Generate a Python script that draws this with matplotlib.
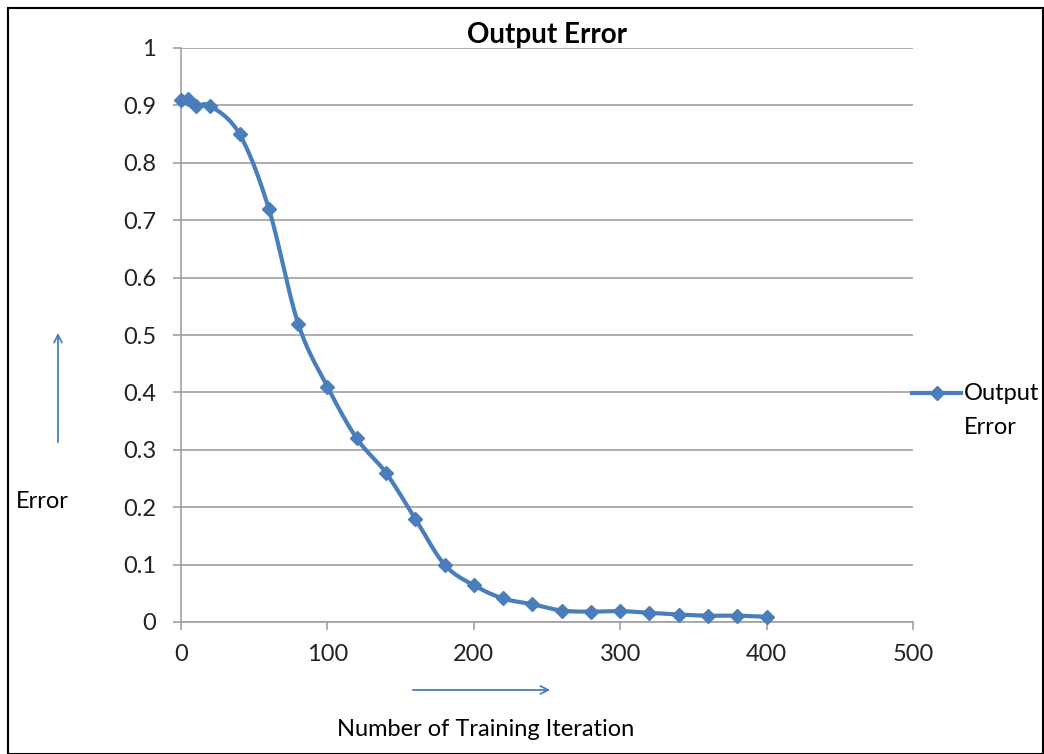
import matplotlib.pyplot as plt
import numpy as np
from matplotlib.patches import Rectangle, FancyArrowPatch

plt.rcParams['font.family'] = ['Lato', 'DejaVu Sans']

# Dữ liệu
iterations = [0, 5, 10, 20, 40, 60, 80, 100, 120, 140, 160, 180, 200, 220, 240,
              260, 280, 300, 320, 340, 360, 380, 400]
errors = [0.91, 0.912, 0.899, 0.899, 0.85, 0.72, 0.52, 0.41, 0.32, 0.26, 0.18, 0.10,
          0.064, 0.041, 0.031, 0.020, 0.018, 0.019, 0.016, 0.013, 0.011, 0.011, 0.009]
x_ticks = [0, 100, 200, 300, 400, 500]
y_ticks = [0, 0.1, 0.2, 0.3, 0.4, 0.5, 0.6, 0.7, 0.8, 0.9, 1]
y_tick_labels = ['0', '0.1', '0.2', '0.3', '0.4', '0.5', '0.6', '0.7', '0.8', '0.9', '1']

blue = '#4A7EBB'
fs = 17


# Đường cong mượt kiểu Excel (Catmull-Rom)
def smooth(xs, ys, n=30):
    xs = np.asarray(xs, float)
    ys = np.asarray(ys, float)
    px = np.concatenate([[xs[0]], xs, [xs[-1]]])
    py = np.concatenate([[ys[0]], ys, [ys[-1]]])
    outx, outy = [], []
    t = np.linspace(0, 1, n)
    for i in range(1, len(px) - 2):
        p0, p1, p2, p3 = [np.array([px[j], py[j]]) for j in range(i - 1, i + 3)]
        c1 = p1 + (p2 - p0) / 6
        c2 = p2 - (p3 - p1) / 6
        for tt in t:
            b = ((1 - tt) ** 3) * p1 + 3 * ((1 - tt) ** 2) * tt * c1 \
                + 3 * (1 - tt) * tt ** 2 * c2 + tt ** 3 * p2
            outx.append(b[0])
            outy.append(b[1])
    return outx, outy


fig = plt.figure(figsize=(10.44, 7.54), dpi=100)
ax = fig.add_axes([181 / 1044, 1 - 622 / 754, (913 - 181) / 1044, (622 - 48) / 754])

sx, sy = smooth(iterations, errors)
ax.plot(sx, sy, color=blue, lw=3, solid_capstyle='round', zorder=3, clip_on=False)
ax.plot(iterations, errors, 'D', color=blue, ms=7, zorder=4, clip_on=False)

ax.set_xlim(0, 500)
ax.set_ylim(0, 1)
ax.set_xticks(x_ticks)
ax.set_yticks(y_ticks)
ax.set_yticklabels(y_tick_labels)
ax.tick_params(axis='both', labelsize=fs, length=6, width=1.2, direction='out')
ax.tick_params(axis='x', colors='#A0A0A0', labelcolor='#222222', pad=10)
ax.tick_params(axis='y', colors='#A0A0A0', labelcolor='#222222', pad=12)
ax.yaxis.grid(True, color='#A0A0A0', lw=1.2)
ax.set_axisbelow(True)
for s in ['top', 'right']:
    ax.spines[s].set_visible(False)
for s in ['left', 'bottom']:
    ax.spines[s].set_color('#A0A0A0')
    ax.spines[s].set_linewidth(1.2)

ax.set_title('Output Error', fontsize=20, fontweight='bold', pad=2)

# Chú thích
fig.lines.append(plt.Line2D([912 / 1044, 961 / 1044], [1 - 393 / 754] * 2,
                            color=blue, lw=3, transform=fig.transFigure))
fig.lines.append(plt.Line2D([937 / 1044], [1 - 393 / 754], marker='D', ms=7,
                            color=blue, transform=fig.transFigure))
fig.text(964 / 1044, 1 - 393 / 754, 'Output', fontsize=fs, va='center', ha='left')
fig.text(964 / 1044, 1 - 427 / 754, 'Error', fontsize=fs, va='center', ha='left')

# Mũi tên và nhãn trục
fig.add_artist(FancyArrowPatch(
    (58 / 1044, 1 - 445 / 754), (58 / 1044, 1 - 330 / 754), transform=fig.transFigure,
    arrowstyle='->', mutation_scale=14, color=blue, lw=1.3))
fig.add_artist(FancyArrowPatch(
    (410 / 1044, 1 - 690 / 754), (553 / 1044, 1 - 690 / 754), transform=fig.transFigure,
    arrowstyle='->', mutation_scale=14, color=blue, lw=1.3))
fig.text(42 / 1044, 1 - 501 / 754, 'Error', fontsize=fs, ha='center', va='center')
fig.text(486 / 1044, 1 - 730 / 754, 'Number of Training Iteration', fontsize=fs,
         ha='center', va='center')

# Khung viền
fig.add_artist(Rectangle((8 / 1044, 0), 1 - 9 / 1044, 1 - 8 / 754, transform=fig.transFigure,
                         fill=False, edgecolor='black', lw=1.5))

fig.savefig('out.png', dpi=100)
